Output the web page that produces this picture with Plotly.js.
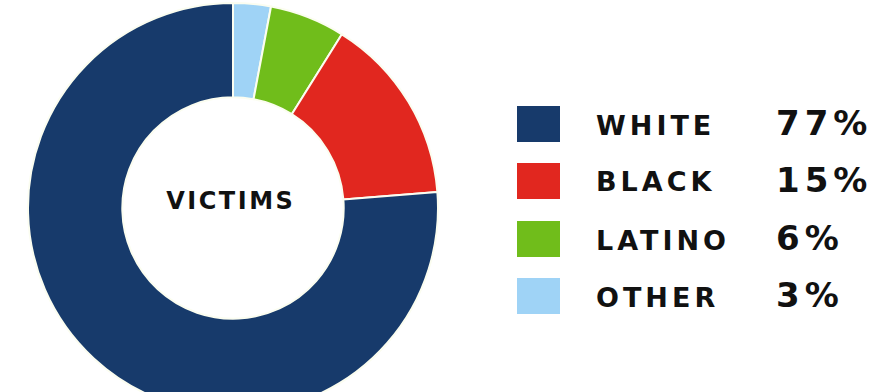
<!DOCTYPE html>
<html>
<head>
<meta charset="utf-8">
<script src="https://cdn.plot.ly/plotly-3.0.1.min.js"></script>
<style>
html, body { margin: 0; padding: 0; background: #fff; }
#wrap { width: 881px; height: 392px; overflow: hidden; position: relative; }
#chart { width: 881px; height: 430px; }
</style>
</head>
<body>
<div id="wrap"><div id="chart"></div></div>
<script>
// Data
const categories = ['WHITE', 'BLACK', 'LATINO', 'OTHER'];
const shares = [77, 15, 6, 3];
const shareLabels = ['77%', '15%', '6%', '3%'];
const colors = ['#173a6b', '#e1271f', '#70bd1b', '#9fd3f6'];
const centerLabel = 'VICTIMS';

const W = 881, H = 430;
const px = x => x / W;
const py = y => 1 - y / H;

// Pie geometry
const cx = 233, cy = 208, R = 205;

// slices drawn clockwise from 12 o'clock: OTHER, LATINO, BLACK, WHITE
const trace = {
  type: 'pie',
  labels: categories.slice().reverse(),
  values: shares.slice().reverse(),
  sort: false,
  direction: 'clockwise',
  rotation: 0,
  hole: 0.54,
  textinfo: 'none',
  hoverinfo: 'skip',
  marker: { colors: colors.slice().reverse(), line: { color: '#fbfdf0', width: 2 } },
  domain: { x: [px(cx - R), px(cx + R)], y: [py(cy + R), py(cy - R)] },
  showlegend: false
};

const rowY = [124, 181, 239, 296];
const shapes = [];
const annotations = [{
  x: px(cx - 2), y: py(201), xref: 'paper', yref: 'paper',
  text: '<b>' + centerLabel + '</b>', showarrow: false,
  xanchor: 'center', yanchor: 'middle',
  font: { family: 'DejaVu Sans', size: 24, color: '#111' }
}];
categories.forEach((c, i) => {
  shapes.push({
    type: 'rect', xref: 'paper', yref: 'paper',
    x0: px(517), x1: px(560), y0: py(rowY[i] - 18), y1: py(rowY[i] + 18),
    fillcolor: colors[i], line: { width: 0 }
  });
  annotations.push({
    x: px(594), y: py(rowY[i] + 1), xref: 'paper', yref: 'paper',
    text: '<b>' + c + '</b>', showarrow: false, align: 'left',
    xanchor: 'left', yanchor: 'middle',
    font: { family: 'DejaVu Sans', size: 27, color: '#111' }
  });
  annotations.push({
    x: px(774), y: py(rowY[i] - 1), xref: 'paper', yref: 'paper',
    text: '<b>' + shareLabels[i] + '</b>', showarrow: false, align: 'left',
    xanchor: 'left', yanchor: 'middle',
    font: { family: 'DejaVu Sans', size: 34, color: '#111' }
  });
});

const layout = {
  width: W, height: H,
  margin: { l: 0, r: 0, t: 0, b: 0 },
  paper_bgcolor: '#ffffff',
  plot_bgcolor: '#ffffff',
  showlegend: false,
  shapes: shapes,
  annotations: annotations
};

Plotly.newPlot('chart', [trace], layout, { displayModeBar: false, staticPlot: true }).then(() => {
  document.querySelectorAll('#chart g.annotation').forEach(g => {
    const idx = +g.getAttribute('data-index');
    const t = g.querySelector('text');
    if (!t) return;
    if (idx === 0) t.style.letterSpacing = '2.5px';
    else if (idx % 2 === 1) t.style.letterSpacing = '4px';
    else t.style.letterSpacing = '5px';
  });
});
</script>
</body>
</html>
